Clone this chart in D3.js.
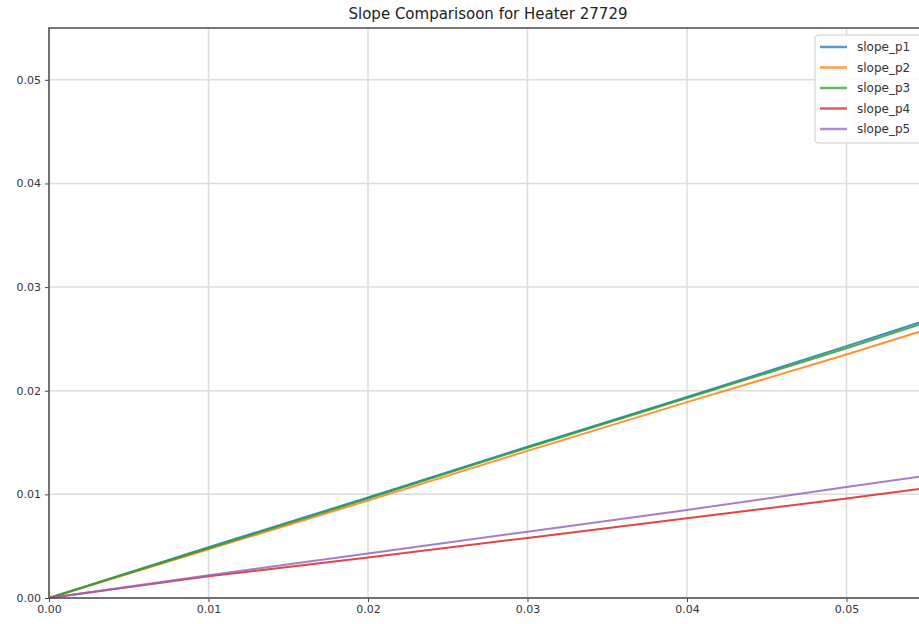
<!DOCTYPE html>
<html>
<head>
<meta charset="utf-8">
<script src="https://cdn.jsdelivr.net/npm/d3@7"></script>
<style>
  body { margin: 0; background: #fff; }
  svg { display: block; font-family: "DejaVu Sans", sans-serif; }
</style>
</head>
<body>
<div id="chart"></div>
<script>

// ---- data ----
const xValues = [0, 0.01, 0.02, 0.03, 0.04, 0.05, 0.055];
const slope_p1 = [0, 0.0049, 0.0097, 0.0146, 0.0194, 0.0243, 0.0268];
const slope_p2 = [0, 0.0047, 0.0094, 0.0142, 0.0189, 0.0235, 0.0259];
const slope_p3 = [0, 0.0048, 0.0096, 0.0145, 0.0193, 0.0241, 0.0266];
const slope_p4 = [0, 0.0021, 0.0039, 0.0058, 0.0077, 0.0096, 0.0106];
const slope_p5 = [0, 0.0022, 0.0043, 0.0064, 0.0085, 0.0107, 0.0118];
const seriesNames = ["slope_p1", "slope_p2", "slope_p3", "slope_p4", "slope_p5"];
const seriesValues = [slope_p1, slope_p2, slope_p3, slope_p4, slope_p5];
const xTicks = [0, 0.01, 0.02, 0.03, 0.04, 0.05];
const yTicks = [0, 0.01, 0.02, 0.03, 0.04, 0.05];
const titleText = "Slope Comparisoon for Heater 27729";

const colors = ["#1f77b4", "#ff7f0e", "#2ca02c", "#d62728", "#9467bd"];

const W = 919, H = 624;
const m = {left: 49, top: 28, bottom: 26};

const svg = d3.select("#chart").append("svg").attr("width", W).attr("height", H);

const x = d3.scaleLinear().domain([0, 0.055]).range([m.left, m.left + 0.055 * 15950]);
const y = d3.scaleLinear().domain([0, 0.055]).range([H - m.bottom, m.top]);

// grid
svg.append("g").selectAll("line").data(xTicks).join("line")
    .attr("x1", d => x(d)).attr("x2", d => x(d))
    .attr("y1", y(0)).attr("y2", y(0.055))
    .attr("stroke", "#dcdcdc").attr("stroke-width", 1.5);
svg.append("g").selectAll("line").data(yTicks).join("line")
    .attr("x1", x(0)).attr("x2", x(0.055))
    .attr("y1", d => y(d)).attr("y2", d => y(d))
    .attr("stroke", "#dcdcdc").attr("stroke-width", 1.5);

// series
const line = d3.line().x((d, i) => x(xValues[i])).y(d => y(d));
seriesValues.forEach((vals, i) => {
    svg.append("path").datum(vals)
        .attr("d", line)
        .attr("fill", "none")
        .attr("stroke", colors[i])
        .attr("stroke-opacity", 0.85)
        .attr("stroke-width", 2);
});

// axes
const xAxis = svg.append("g").attr("transform", `translate(0,${y(0)})`)
    .call(d3.axisBottom(x).tickValues(xTicks).tickFormat(d3.format(".2f")).tickSize(4).tickPadding(3));
const yAxis = svg.append("g").attr("transform", `translate(${x(0)},0)`)
    .call(d3.axisLeft(y).tickValues(yTicks).tickFormat(d3.format(".2f")).tickSize(4).tickPadding(4));
[xAxis, yAxis].forEach(a => {
    a.select(".domain").remove();
    a.selectAll(".tick line").attr("stroke", "#444").attr("stroke-width", 1);
    a.selectAll(".tick text").attr("fill", "#333").style("font-size", "11px")
        .style("font-family", "DejaVu Sans, sans-serif");
});

// spines
svg.append("rect")
    .attr("x", x(0)).attr("y", y(0.055))
    .attr("width", x(0.055) - x(0)).attr("height", y(0) - y(0.055))
    .attr("fill", "none").attr("stroke", "#555").attr("stroke-width", 1.6);

// title
svg.append("text")
    .attr("x", 488).attr("y", 19)
    .attr("text-anchor", "middle")
    .attr("fill", "#222")
    .style("font-size", "15px")
    .text(titleText);

// legend
const lg = svg.append("g").attr("transform", "translate(815,35)");
lg.append("rect").attr("width", 112).attr("height", 108).attr("rx", 3)
    .attr("fill", "#fff").attr("fill-opacity", 0.85)
    .attr("stroke", "#ccc").attr("stroke-width", 1);
seriesNames.forEach((name, i) => {
    const row = lg.append("g").attr("transform", `translate(0,${12 + i * 20.5})`);
    row.append("line").attr("x1", 5).attr("x2", 32).attr("y1", 0).attr("y2", 0)
        .attr("stroke", colors[i]).attr("stroke-opacity", 0.75).attr("stroke-width", 2.5);
    row.append("text").attr("x", 42).attr("y", 4)
        .attr("fill", "#333").style("font-size", "12px").text(name);
});

</script>
</body>
</html>
